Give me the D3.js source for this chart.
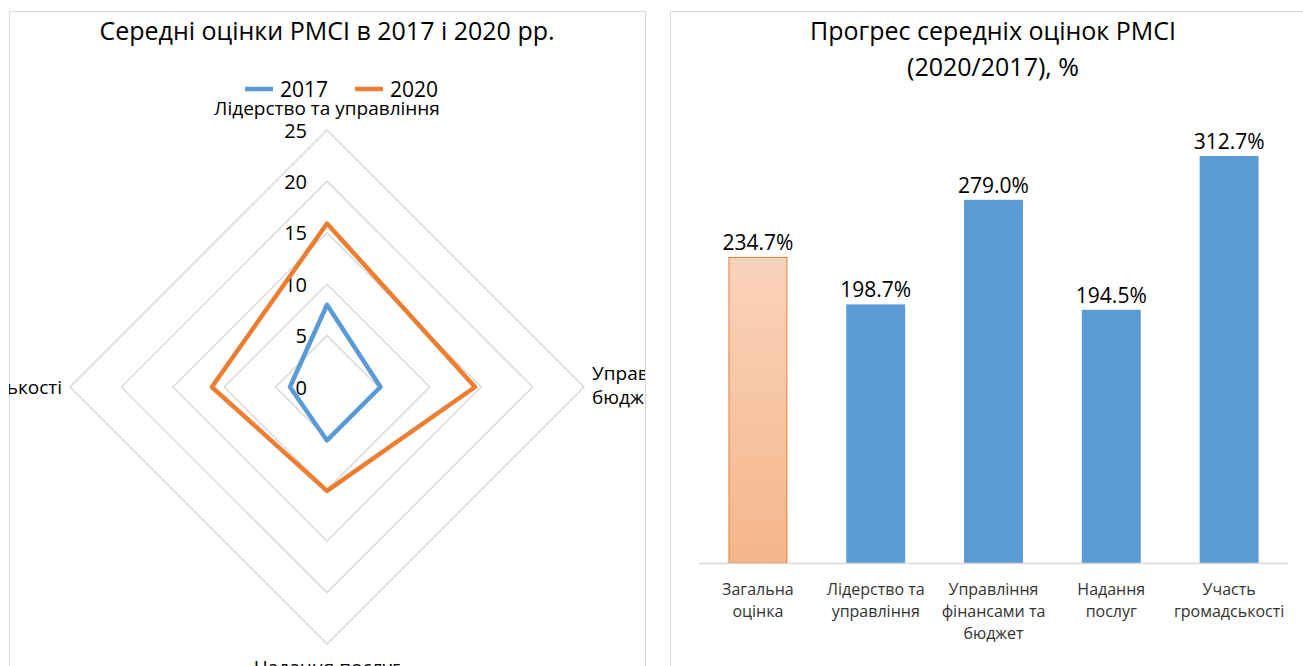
<!DOCTYPE html>
<html>
<head>
<meta charset="utf-8">
<script src="https://cdn.jsdelivr.net/npm/d3@7"></script>
<style>
  html, body { margin: 0; padding: 0; background: #fff; }
  svg { display: block; }
  text { font-family: "Open Sans", "Noto Sans", sans-serif; fill: #000; }
</style>
</head>
<body>
<svg id="chart" width="1303" height="666"></svg>
<script>
// ---- Data ----
const radarAxes = ["Лідерство та управління", "Управління фінансами та бюджет", "Надання послуг", "Участь громадськості"];
const radarTicks = [0, 5, 10, 15, 20, 25];
const years = ["2017", "2020"];
const values2017 = [8.0, 5.2, 5.2, 3.6];
const values2020 = [15.9, 14.4, 10.1, 11.2];

const barCategories = ["Загальна оцінка", "Лідерство та управління", "Управління фінансами та бюджет", "Надання послуг", "Участь громадськості"];
const barLabelLines = [["Загальна", "оцінка"], ["Лідерство та", "управління"], ["Управління", "фінансами та", "бюджет"], ["Надання", "послуг"], ["Участь", "громадськості"]];
const progressValues = [234.7, 198.7, 279.0, 194.5, 312.7];

const leftTitle = "Середні оцінки РМСІ в 2017 і 2020 рр.";
const rightTitle = ["Прогрес середніх оцінок РМСІ", "(2020/2017), %"];

// ---- Setup ----
const svg = d3.select("#chart");
const grid = "#d9d9d9";
const blue = "#5b9bd5", orange = "#ed7d31";

const defs = svg.append("defs");
defs.append("clipPath").attr("id", "clipL").append("rect")
  .attr("x", 9).attr("y", 11).attr("width", 636).attr("height", 700);
const grad = defs.append("linearGradient").attr("id", "peach")
  .attr("x1", 0).attr("y1", 0).attr("x2", 0).attr("y2", 1);
grad.append("stop").attr("offset", "0%").attr("stop-color", "#fad3bc");
grad.append("stop").attr("offset", "100%").attr("stop-color", "#f4b68a");

// Panels
svg.append("rect").attr("x", 9.5).attr("y", 11.5).attr("width", 636).attr("height", 700)
  .attr("fill", "#fff").attr("stroke", grid).attr("stroke-width", 1);
svg.append("rect").attr("x", 670.5).attr("y", 11.5).attr("width", 700).attr("height", 700)
  .attr("fill", "#fff").attr("stroke", grid).attr("stroke-width", 1);

// ---- Radar ----
const L = svg.append("g").attr("clip-path", "url(#clipL)");
const cx = 327, cy = 387;
const r = d3.scaleLinear().domain([0, 25]).range([0, 257]);
const angle = d3.scaleLinear().domain([0, radarAxes.length]).range([0, 2 * Math.PI]);
const pt = (i, v) => [cx + r(v) * Math.sin(angle(i)), cy - r(v) * Math.cos(angle(i))];

L.append("text").attr("x", cx).attr("y", 30).attr("text-anchor", "middle")
  .attr("dominant-baseline", "central").style("font-size", "25px").text(leftTitle);

// grid rings
radarTicks.filter(t => t > 0).forEach(t => {
  L.append("path")
    .attr("d", d3.line()(radarAxes.map((a, i) => pt(i, t))) + "Z")
    .attr("fill", "none").attr("stroke", grid).attr("stroke-width", 1.5);
});
// tick labels
L.selectAll(".tick").data(radarTicks).join("text")
  .attr("x", 307).attr("y", d => cy - r(d)).attr("text-anchor", "end")
  .attr("dominant-baseline", "central").style("font-size", "20px").text(d => d);

// series
const line = d3.line();
[[values2017, blue], [values2020, orange]].forEach(([vals, col]) => {
  L.append("path").attr("d", line(vals.map((v, i) => pt(i, v))) + "Z")
    .attr("fill", "none").attr("stroke", col).attr("stroke-width", 4.5)
    .attr("stroke-linejoin", "round");
});

// axis labels
const labFs = "19px";
L.append("text").attr("x", cx).attr("y", 108).attr("text-anchor", "middle")
  .attr("dominant-baseline", "central").style("font-size", labFs).text(radarAxes[0]);
const rl = L.append("text").attr("dominant-baseline", "central").style("font-size", labFs);
rl.append("tspan").attr("x", 592).attr("y", 373).attr("dominant-baseline", "central").text("Управління фінансами та");
rl.append("tspan").attr("x", 592).attr("y", 397).attr("dominant-baseline", "central").text("бюджет");
L.append("text").attr("x", cx).attr("y", 667).attr("text-anchor", "middle")
  .attr("dominant-baseline", "central").style("font-size", labFs).text(radarAxes[2]);
L.append("text").attr("x", 62).attr("y", 387).attr("text-anchor", "end")
  .attr("dominant-baseline", "central").style("font-size", labFs).text(radarAxes[3]);

// legend
const legX = [245, 355];
years.forEach((y, i) => {
  const col = i === 0 ? blue : orange;
  L.append("line").attr("x1", legX[i]).attr("x2", legX[i] + 28).attr("y1", 89).attr("y2", 89)
    .attr("stroke", col).attr("stroke-width", 4.5);
  L.append("text").attr("x", legX[i] + 35).attr("y", 89).attr("dominant-baseline", "central")
    .style("font-size", "21px").text(y);
});

// ---- Bar chart ----
const R = svg.append("g");
R.append("text").attr("text-anchor", "middle").style("font-size", "25px")
  .selectAll("tspan").data(rightTitle).join("tspan")
  .attr("x", 993).attr("y", (d, i) => 30 + i * 36).attr("dominant-baseline", "central").text(d => d);

const x = d3.scaleBand().domain(barCategories).range([699, 1288]).paddingInner(0.5).paddingOuter(0.25);
const y = d3.scaleLinear().domain([0, 350]).range([563, 107.4]);

R.selectAll(".bar").data(progressValues).join("rect")
  .attr("x", (d, i) => x(barCategories[i]) + (i === 0 ? 0.5 : 0))
  .attr("y", d => y(d))
  .attr("width", (d, i) => x.bandwidth() - (i === 0 ? 1 : 0))
  .attr("height", d => y(0) - y(d))
  .attr("fill", (d, i) => i === 0 ? "url(#peach)" : blue)
  .attr("stroke", (d, i) => i === 0 ? orange : "none")
  .attr("stroke-width", 1);

R.append("line").attr("x1", 699).attr("x2", 1288).attr("y1", y(0) + 0.5).attr("y2", y(0) + 0.5)
  .attr("stroke", grid).attr("stroke-width", 1.5);

R.selectAll(".val").data(progressValues).join("text")
  .attr("x", (d, i) => x(barCategories[i]) + x.bandwidth() / 2)
  .attr("y", d => y(d) - 15).attr("text-anchor", "middle").attr("dominant-baseline", "central")
  .style("font-size", "21px").text(d => d.toFixed(1) + "%");

barLabelLines.forEach((lines, i) => {
  const t = R.append("text").attr("text-anchor", "middle").style("font-size", "16px").style("fill", "#333");
  lines.forEach((ln, j) => {
    t.append("tspan").attr("x", x(barCategories[i]) + x.bandwidth() / 2)
      .attr("y", 589 + j * 22).attr("dominant-baseline", "central").text(ln);
  });
});
</script>
</body>
</html>
